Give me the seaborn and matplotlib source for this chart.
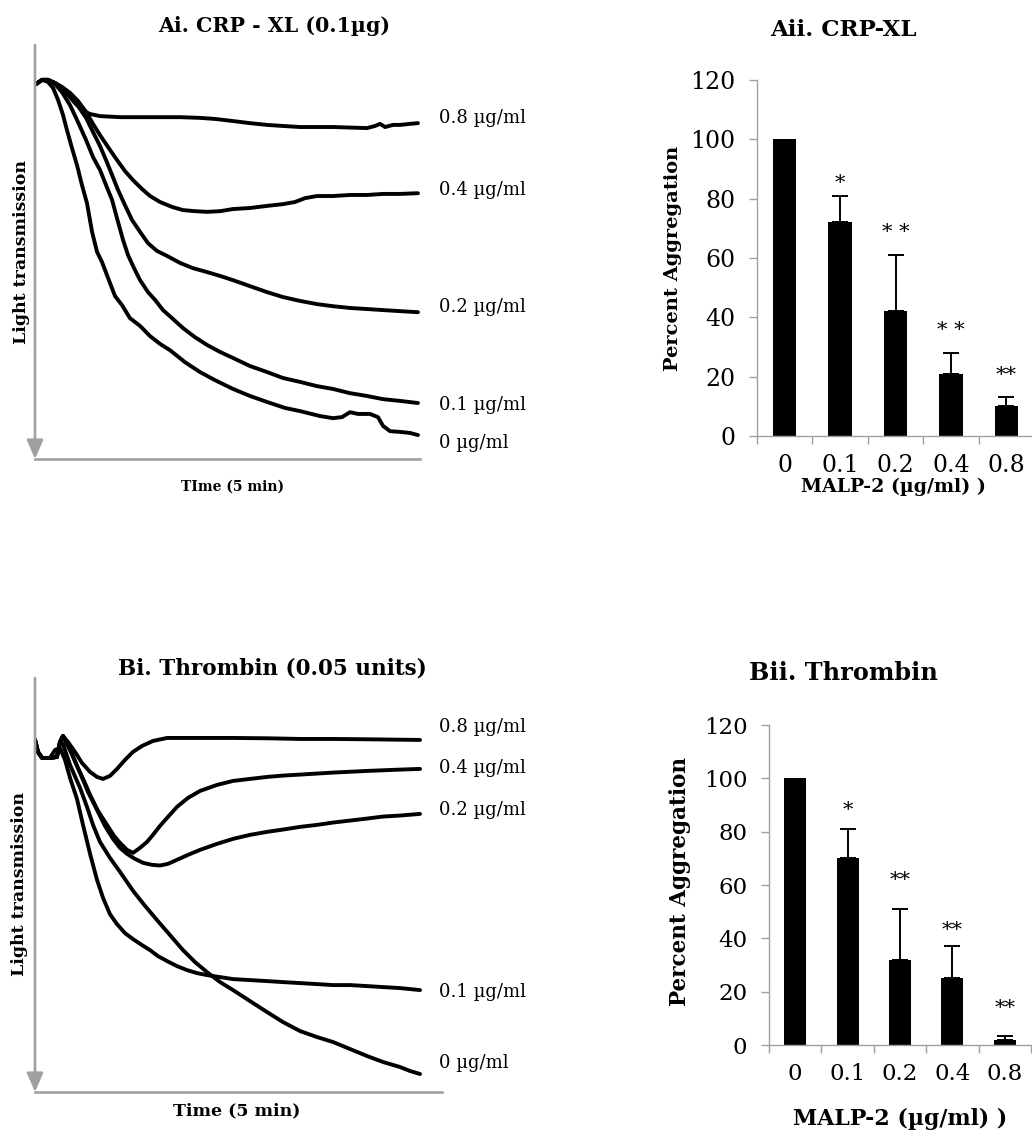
import numpy as np
import pandas as pd
import matplotlib
matplotlib.use("Agg")
import matplotlib.pyplot as plt
from matplotlib.ticker import FixedLocator
import seaborn as sns

# ---------------- aggregometry traces ----------------
# time in seconds (5 min run), aggregation as % of the untreated response
doses = ["0.8 µg/ml", "0.4 µg/ml", "0.2 µg/ml", "0.1 µg/ml", "0 µg/ml"]

# CRP-XL (0.1 µg) stimulated platelets
crp_t_08 = [0, 4.7, 9.4, 14.8, 20.3, 25.0, 30.5, 35.9, 42.2, 50.0, 65.6, 89.1, 112.5, 128.1, 139.8,
            153.9, 167.2, 180.5, 193.0, 206.3, 232.0, 258.6, 264.8, 268.8, 272.7, 278.9, 284.4, 292.2, 298.4]
crp_v_08 = [0.3, -0.9, -0.9, 0.0, 1.4, 3.4, 5.7, 7.7, 8.8, 9.4, 9.7, 9.7, 9.7, 9.9, 10.2,
            10.8, 11.4, 11.9, 12.2, 12.5, 12.5, 12.8, 12.2, 11.6, 12.5, 11.9, 11.9, 11.6, 11.4]
crp_t_04 = [0, 4.7, 9.4, 14.8, 20.3, 26.6, 32.8, 39.1, 44.5, 50.0, 56.3, 63.3, 69.5, 75.8, 82.8, 89.1,
            96.9, 106.3, 114.8, 124.2, 133.6, 143.8, 153.9, 167.2, 180.5, 193.0, 202.3, 210.2, 219.5,
            232.0, 245.3, 258.6, 271.1, 284.4, 298.4]
crp_v_04 = [0.3, -0.9, -0.9, 0.0, 1.1, 2.8, 5.1, 8.2, 11.6, 14.8, 18.2, 21.9, 25.0, 27.6, 30.1, 32.1,
            33.8, 35.2, 36.1, 36.4, 36.6, 36.4, 35.8, 35.5, 34.9, 34.4, 33.8, 32.7, 32.1,
            32.1, 31.8, 31.8, 31.5, 31.5, 31.3]
crp_t_02 = [0, 4.7, 9.4, 14.8, 20.3, 26.6, 32.8, 39.1, 44.5, 50.0, 54.7, 59.4, 64.1, 69.5, 75.0, 81.3,
            87.5, 94.5, 102.3, 112.5, 122.7, 133.6, 143.8, 153.9, 167.2, 180.5, 193.0, 206.3, 219.5,
            232.0, 245.3, 258.6, 271.1, 284.4, 298.4]
crp_v_02 = [0.3, -0.9, -0.9, 0.0, 1.4, 4.0, 6.5, 9.9, 13.9, 17.9, 21.9, 26.1, 30.4, 34.7, 38.9, 42.3,
            45.5, 47.7, 49.1, 51.1, 52.6, 53.7, 54.8, 56.0, 57.7, 59.4, 60.8, 61.9, 62.8,
            63.4, 63.9, 64.2, 64.5, 64.8, 65.1]
crp_t_01 = [0, 4.7, 9.4, 14.8, 20.3, 26.6, 32.8, 39.1, 44.5, 50.0, 54.7, 59.4, 64.1, 68.0, 71.9, 76.6,
            81.3, 87.5, 93.0, 99.2, 106.3, 114.8, 124.2, 133.6, 143.8, 153.9, 167.2, 180.5, 193.0,
            206.3, 219.5, 232.0, 245.3, 258.6, 271.1, 284.4, 298.4]
crp_v_01 = [0.3, -0.9, -0.9, 0.3, 2.6, 6.3, 11.1, 16.2, 21.0, 24.7, 29.0, 33.2, 39.5, 44.6, 48.9, 52.6,
            56.0, 59.4, 61.6, 64.5, 66.8, 69.6, 72.2, 74.4, 76.4, 78.1, 80.4, 82.1, 83.8,
            84.9, 86.1, 86.9, 88.1, 88.9, 89.8, 90.3, 90.9]
crp_t_00 = [0, 4.7, 9.4, 13.3, 17.2, 21.1, 24.2, 28.1, 32.0, 35.9, 39.8, 43.8, 47.7, 51.6, 56.3, 61.7,
            67.2, 73.4, 81.3, 89.1, 96.9, 104.7, 116.4, 128.1, 139.8, 153.9, 167.2, 180.5, 194.5,
            206.3, 221.9, 232.0, 239.1, 245.3, 251.6, 260.9, 267.2, 271.1, 276.6, 284.4, 292.2, 298.4]
crp_v_00 = [0.3, -0.9, -0.3, 1.4, 4.8, 9.1, 13.4, 18.5, 23.3, 29.0, 34.1, 42.3, 48.0, 50.9, 55.4, 60.5,
            63.1, 66.8, 69.0, 71.9, 74.1, 75.9, 79.3, 82.1, 84.4, 86.9, 88.9, 90.6, 92.3,
            93.2, 94.6, 95.2, 94.9, 93.5, 94.0, 94.0, 94.9, 97.4, 98.9, 99.1, 99.4, 100.0]

# Thrombin (0.05 units) stimulated platelets
thr_t_08 = [0, 2.3, 5.5, 11.7, 17.1, 19.5, 21.8, 25.7, 31.2, 36.6, 42.9, 48.3, 53.0, 58.4, 63.9, 70.1,
            76.3, 83.4, 91.9, 102.9, 128.6, 154.3, 180.8, 206.5, 232.2, 258.7, 300.0]
thr_v_08 = [0, 3.6, 5.4, 5.4, 5.1, 0.6, -1.2, 0.6, 3.6, 6.9, 9.6, 11.1, 11.7, 10.8, 8.7, 6.0,
            3.6, 1.8, 0.3, -0.6, -0.6, -0.6, -0.5, -0.3, -0.3, -0.2, 0.0]
thr_t_04 = [0, 2.3, 5.5, 11.7, 17.1, 19.5, 21.8, 27.3, 32.7, 38.2, 42.9, 49.1, 56.1, 61.6, 66.2, 71.7,
            76.4, 81.8, 87.3, 91.9, 97.4, 103.6, 110.6, 119.2, 128.6, 141.8, 154.3, 167.5, 180.8,
            193.2, 206.5, 232.2, 258.7, 284.4, 300.0]
thr_v_04 = [0, 3.6, 5.4, 5.4, 5.1, 0.6, -1.2, 3.0, 7.8, 12.3, 16.5, 21.3, 25.5, 28.8, 30.9, 33.0,
            33.9, 32.4, 30.6, 28.5, 25.8, 23.1, 20.1, 17.4, 15.3, 13.5, 12.3, 11.7, 11.1,
            10.7, 10.4, 9.8, 9.3, 8.9, 8.7]
thr_t_02 = [0, 2.3, 5.5, 11.7, 17.1, 19.5, 21.8, 28.1, 35.1, 41.3, 48.3, 54.5, 60.8, 66.2, 71.7, 77.9,
            84.2, 91.2, 97.4, 103.6, 110.6, 119.2, 128.6, 141.8, 154.3, 167.5, 180.8, 193.2, 206.5,
            219.7, 232.2, 245.5, 258.7, 271.2, 284.4, 300.0]
thr_v_02 = [0, 3.6, 5.4, 5.4, 5.1, 0.6, -1.2, 3.6, 9.9, 15.6, 21.0, 25.8, 29.7, 32.4, 34.2, 35.7,
            36.9, 37.5, 37.7, 37.2, 36.0, 34.5, 33.0, 31.2, 29.7, 28.5, 27.6, 26.9, 26.1,
            25.5, 24.8, 24.2, 23.6, 23.0, 22.7, 22.2]
thr_t_01 = [0, 2.3, 5.5, 11.7, 15.6, 19.5, 23.4, 27.3, 32.7, 37.4, 42.9, 48.3, 53.0, 58.4, 63.9, 70.1,
            76.4, 83.4, 89.6, 95.8, 102.9, 110.6, 118.4, 126.2, 134.0, 144.2, 154.3, 167.5, 180.8,
            193.2, 206.5, 219.7, 232.2, 245.5, 258.7, 271.2, 284.4, 300.0]
thr_v_01 = [0, 3.6, 5.4, 5.4, 3.0, 2.4, 6.0, 11.4, 17.7, 25.5, 34.2, 42.0, 47.4, 52.3, 55.3, 58.0,
            59.8, 61.6, 63.1, 64.9, 66.4, 67.9, 69.1, 70.0, 70.6, 71.2, 71.8, 72.1, 72.4,
            72.7, 73.0, 73.3, 73.6, 73.6, 73.9, 74.2, 74.5, 75.1]
thr_t_00 = [0, 2.3, 5.5, 11.7, 17.1, 19.5, 21.8, 27.3, 35.1, 40.5, 45.2, 50.6, 58.4, 66.2, 76.4, 85.7,
            95.1, 105.2, 115.3, 124.7, 134.0, 144.2, 154.3, 167.5, 180.8, 193.2, 206.5, 219.7, 232.2,
            245.5, 258.7, 271.2, 284.4, 292.2, 300.0]
thr_v_00 = [0, 3.6, 5.4, 5.4, 5.1, 0.6, 1.2, 7.5, 14.4, 20.1, 25.5, 30.6, 35.4, 39.6, 45.3, 49.8,
            54.1, 58.6, 63.1, 66.7, 69.7, 72.7, 75.1, 78.4, 81.7, 84.7, 87.4, 89.2, 90.7,
            92.8, 94.9, 96.7, 98.2, 99.4, 100.3]

# vertical placement of the dose labels at the right end of each trace
crp_label_y = [9.9, 30.4, 63.6, 91.5, 102.3]
thr_label_y = [-3.9, 8.4, 21.0, 75.7, 97.0]

# ---------------- summary bar charts ----------------
malp = ["0", "0.1", "0.2", "0.4", "0.8"]
crp_mean = [100, 72, 42, 21, 10]
crp_err = [0, 9, 19, 7, 3]
crp_sig = ["", "*", "* *", "* *", "**"]
crp_sig_y = [0, 83.1, 66.9, 33.7, 18.6]
thr_mean = [100, 70, 32, 25, 2]
thr_err = [0, 11, 19, 12, 1.5]
thr_sig = ["", "*", "**", "**", "**"]
thr_sig_y = [0, 85.7, 59.6, 41.0, 11.6]

sns.set_theme(style="white")
plt.rcParams["font.family"] = ["DejaVu Serif"]
plt.rcParams.update({"text.color": "black", "axes.labelcolor": "black",
                     "xtick.color": "black", "ytick.color": "black"})

GRAY = "#a0a0a0"
W, H = 1032, 1137
fig = plt.figure(figsize=(W / 100, H / 100), dpi=100)


def box(l, t, r, b):
    return [l / W, 1 - b / H, (r - l) / W, (b - t) / H]


def ftext(x, y, s, **kw):
    fig.text(x / W, 1 - y / H, s, ha="center", va="center", **kw)


def trace_panel(rect, times, values, label_y, xlim, ylim):
    ax = fig.add_axes(rect)
    df = pd.concat([pd.DataFrame({"time": t, "agg": v, "dose": d})
                    for d, t, v in zip(doses, times, values)], ignore_index=True)
    sns.lineplot(data=df, x="time", y="agg", units="dose", estimator=None, sort=False,
                 color="black", lw=2.8, ax=ax)
    for line in ax.get_lines():
        line.set_solid_joinstyle("round")
        line.set_solid_capstyle("round")
    ax.set_xlim(*xlim)
    ax.set_ylim(*ylim)
    ax.set_xticks([])
    ax.set_yticks([])
    ax.set_xlabel("")
    ax.set_ylabel("")
    for side in ("top", "right", "left"):
        ax.spines[side].set_visible(False)
    ax.spines["bottom"].set_color(GRAY)
    ax.spines["bottom"].set_linewidth(1.9)
    ax.annotate("", xy=(0, 0), xycoords="axes fraction", xytext=(0, 1), textcoords="axes fraction",
                arrowprops=dict(arrowstyle="-|>,head_length=1.15,head_width=0.5", color=GRAY,
                                lw=1.9, shrinkA=0, shrinkB=0, mutation_scale=10))
    for d, y in zip(doses, label_y):
        ax.text(314.8, y, d, ha="left", va="center", fontsize=13, clip_on=False)
    return ax


def bar_panel(rect, means, errs, sig, sig_y, tick_size, star_size):
    ax = fig.add_axes(rect)
    sns.barplot(x=malp, y=means, color="black", saturation=1, width=0.42,
                errorbar=None, linewidth=0, ax=ax)
    idx = [i for i, e in enumerate(errs) if e > 0]
    ax.errorbar(idx, [means[i] for i in idx],
                yerr=[[0] * len(idx), [errs[i] for i in idx]],
                fmt="none", ecolor="black", elinewidth=1.4, capsize=6, capthick=1.4)
    for i, (s, y) in enumerate(zip(sig, sig_y)):
        if s:
            ax.text(i, y, s, ha="center", va="baseline", fontsize=star_size)
    ax.set_xlim(-0.5, 4.5)
    ax.set_ylim(0, 120)
    ax.set_yticks(range(0, 121, 20))
    ax.xaxis.set_minor_locator(FixedLocator(np.arange(-0.5, 5.0, 1.0)))
    ax.tick_params(axis="x", which="major", length=0, pad=13, labelsize=tick_size)
    ax.tick_params(axis="x", which="minor", length=5.5, width=1, color=GRAY, direction="out",
                   bottom=True)
    ax.tick_params(axis="y", length=5.5, width=1, color=GRAY, direction="out", pad=10,
                   labelsize=tick_size, left=True)
    ax.set_xlabel("")
    ax.set_ylabel("")
    for side in ("top", "right"):
        ax.spines[side].set_visible(False)
    for side in ("left", "bottom"):
        ax.spines[side].set_color(GRAY)
        ax.spines[side].set_linewidth(1.0)
    return ax


# Ai: CRP-XL traces
trace_panel(box(35, 45, 420, 459),
            [crp_t_08, crp_t_04, crp_t_02, crp_t_01, crp_t_00],
            [crp_v_08, crp_v_04, crp_v_02, crp_v_01, crp_v_00],
            crp_label_y, (-0.8, 300), (106.8, -10.8))
ftext(274, 26, "Ai. CRP - XL (0.1µg)", fontsize=14.8, fontweight="bold")
ftext(233, 487, "TIme (5 min)", fontsize=10, fontweight="bold")
ftext(22, 252, "Light transmission", fontsize=12.5, fontweight="bold", rotation=90)

# Aii: CRP-XL summary
bar_panel(box(757, 80, 1034, 436), crp_mean, crp_err, crp_sig, crp_sig_y, 17, 15)
ftext(843, 29.5, "Aii. CRP-XL", fontsize=16.5, fontweight="bold")
ftext(673, 258, "Percent Aggregation", fontsize=14, fontweight="bold", rotation=90)
ftext(893, 487, "MALP-2 (µg/ml) )", fontsize=13.7, fontweight="bold")

# Bi: thrombin traces
trace_panel(box(35, 678, 442, 1092),
            [thr_t_08, thr_t_04, thr_t_02, thr_t_01, thr_t_00],
            [thr_v_08, thr_v_04, thr_v_02, thr_v_01, thr_v_00],
            thr_label_y, (0, 317.1), (105.7, -18.6))
ftext(272, 669, "Bi. Thrombin (0.05 units)", fontsize=15.5, fontweight="bold")
ftext(237, 1111, "Time (5 min)", fontsize=12.5, fontweight="bold")
ftext(20, 884, "Light transmission", fontsize=12.5, fontweight="bold", rotation=90)

# Bii: thrombin summary
bar_panel(box(769, 725, 1031, 1045), thr_mean, thr_err, thr_sig, thr_sig_y, 16.5, 15)
ftext(843, 673, "Bii. Thrombin", fontsize=17.3, fontweight="bold")
ftext(680, 882, "Percent Aggregation", fontsize=15.5, fontweight="bold", rotation=90)
ftext(900, 1119, "MALP-2 (µg/ml) )", fontsize=15.8, fontweight="bold")

fig.savefig("out.png", dpi=100)
